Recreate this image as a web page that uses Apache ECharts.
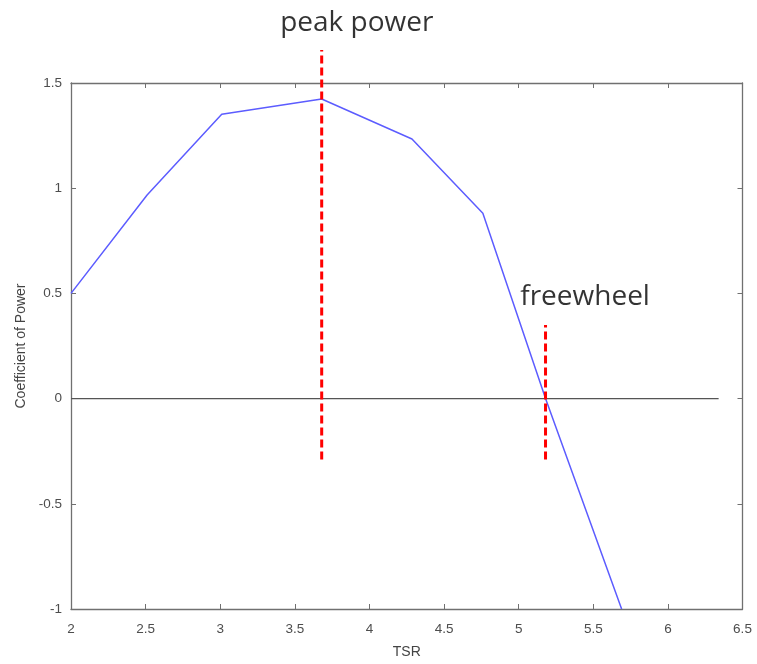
<!DOCTYPE html>
<html><head><meta charset="utf-8">
<script src="https://cdn.jsdelivr.net/npm/echarts@6/dist/echarts.min.js"></script>
<style>html,body{margin:0;padding:0;background:#fff}#c{width:757px;height:664px}</style>
</head><body><div id="c"></div>
<script>
const tsr = [2.0, 2.51, 3.01, 3.68, 4.285, 4.76, 5.18, 5.69];
const cp  = [0.5, 0.968, 1.352, 1.424, 1.234, 0.881, 0.0, -1.0];
const zeroLineX = [2.0, 6.34];
const zeroLineY = [0, 0];
const peakX = 3.68, peakY = [-0.29, 1.657];
const freeX = 5.18, freeY = [-0.29, 0.35];
const annotations = [
  {text: 'peak power', x: 3.915, y: 1.785},
  {text: 'freewheel', x: 5.445, y: 0.483}
];
const xTicks = {min: 2, max: 6.5, interval: 0.5};
const yTicks = {min: -1, max: 1.5, interval: 0.5};

const axisColor = '#707070';
const labelColor = '#4d4d4d';
const chart = echarts.init(document.getElementById('c'));
const baseAxis = {
  axisLine: {show: true, onZero: false, lineStyle: {color: axisColor, width: 1.3}},
  axisTick: {show: true, inside: true, length: 5, lineStyle: {color: axisColor}},
  splitLine: {show: false},
  axisLabel: {color: labelColor, fontFamily: 'Liberation Sans', fontSize: 13.5}
};
chart.setOption({
  animation: false,
  grid: {left: 71, right: 14.5, top: 83, bottom: 55, containLabel: false},
  xAxis: [
    Object.assign({}, baseAxis, {type: 'value', position: 'bottom', ...xTicks,
      name: 'TSR', nameLocation: 'middle', nameGap: 36,
      nameTextStyle: {color: '#444', fontFamily: 'Liberation Sans', fontSize: 14},
      axisLabel: Object.assign({}, baseAxis.axisLabel, {margin: 13})}),
    Object.assign({}, baseAxis, {type: 'value', position: 'top', ...xTicks,
      axisLabel: {show: false}})
  ],
  yAxis: [
    Object.assign({}, baseAxis, {type: 'value', position: 'left', ...yTicks,
      name: 'Coefficient of Power', nameLocation: 'middle', nameGap: 42,
      nameTextStyle: {color: '#444', fontFamily: 'Liberation Sans', fontSize: 14},
      axisLabel: Object.assign({}, baseAxis.axisLabel, {margin: 9})}),
    Object.assign({}, baseAxis, {type: 'value', position: 'right', ...yTicks,
      axisLabel: {show: false}})
  ],
  series: [
    {type: 'line', data: zeroLineX.map((x, i) => [x, zeroLineY[i]]), symbol: 'none',
     lineStyle: {color: '#555', width: 1.3}, z: 2},
    {type: 'line', data: tsr.map((x, i) => [x, cp[i]]), symbol: 'none',
     lineStyle: {color: '#5c5cff', width: 1.5}, z: 3},
    {type: 'line', data: peakY.map(y => [peakX, y]), symbol: 'none', clip: false,
     lineStyle: {color: '#ff0000', width: 3, type: [8, 4]}, z: 4},
    {type: 'line', data: freeY.map(y => [freeX, y]), symbol: 'none', clip: false,
     lineStyle: {color: '#ff0000', width: 3, type: [8, 4]}, z: 4},
    {type: 'scatter', clip: false, symbolSize: 0,
     data: annotations.map(a => ({value: [a.x, a.y], label: {formatter: a.text}})),
     label: {show: true, position: 'inside', color: '#000', textBorderWidth: 0,
             fontFamily: 'Open Sans', fontSize: 28},
     z: 5}
  ]
});
</script></body></html>
